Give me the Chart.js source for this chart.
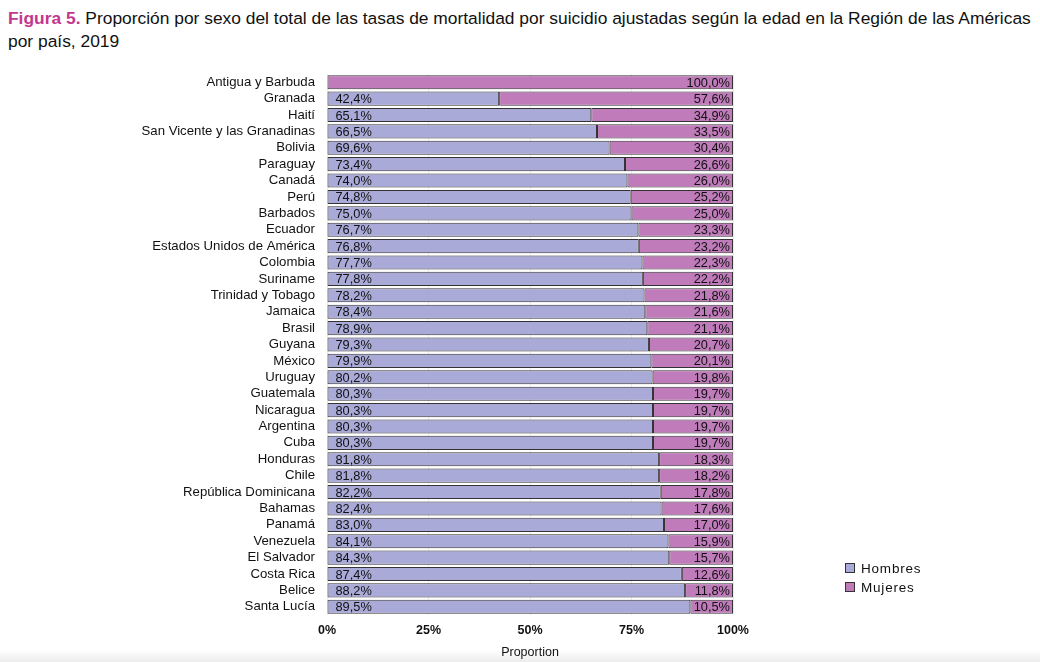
<!DOCTYPE html>
<html>
<head>
<meta charset="utf-8">
<script src="https://cdn.jsdelivr.net/npm/chart.js@4"></script>
<style>
  html, body { margin: 0; padding: 0; background: #fff; }
  body { width: 1040px; height: 662px; position: relative; overflow: hidden; font-family: "Liberation Sans", Arial, sans-serif; }
  #title { position: absolute; left: 8px; top: 7px; width: 1030px; font-size: 17.4px; line-height: 23px; color: #111; }
  #title b { color: #c2378f; }
  #wrap { position: absolute; left: 0; top: 0; width: 1040px; height: 662px; }
  #band { position: absolute; left: 0; bottom: 0; width: 1040px; height: 12px; background: linear-gradient(#ffffff, #ececec); }
</style>
</head>
<body>
<div id="band"></div>
<div id="title"><b>Figura 5.</b> Proporción por sexo del total de las tasas de mortalidad por suicidio ajustadas según la edad en la Región de las Américas por país, 2019</div>
<div id="wrap"><canvas id="chart" width="1040" height="662"></canvas></div>
<script>
// ---------- Data ----------
const countries = [
  "Antigua y Barbuda", "Granada", "Haití", "San Vicente y las Granadinas", "Bolivia",
  "Paraguay", "Canadá", "Perú", "Barbados", "Ecuador", "Estados Unidos de América",
  "Colombia", "Suriname", "Trinidad y Tobago", "Jamaica", "Brasil", "Guyana", "México",
  "Uruguay", "Guatemala", "Nicaragua", "Argentina", "Cuba", "Honduras", "Chile",
  "República Dominicana", "Bahamas", "Panamá", "Venezuela", "El Salvador", "Costa Rica",
  "Belice", "Santa Lucía"
];
const hombres = [
  0.0, 42.4, 65.1, 66.5, 69.6, 73.4, 74.0, 74.8, 75.0, 76.7, 76.8,
  77.7, 77.8, 78.2, 78.4, 78.9, 79.3, 79.9, 80.2, 80.3, 80.3, 80.3, 80.3, 81.8, 81.8,
  82.2, 82.4, 83.0, 84.1, 84.3, 87.4, 88.2, 89.5
];
const mujeres = [
  100.0, 57.6, 34.9, 33.5, 30.4, 26.6, 26.0, 25.2, 25.0, 23.3, 23.2,
  22.3, 22.2, 21.8, 21.6, 21.1, 20.7, 20.1, 19.8, 19.7, 19.7, 19.7, 19.7, 18.3, 18.2,
  17.8, 17.6, 17.0, 15.9, 15.7, 12.6, 11.8, 10.5
];
const xTicks = [0, 25, 50, 75, 100];

const COLOR_H = '#aaaad9';
const COLOR_M = '#bf7bba';
const FONT = '"Liberation Sans", Arial, sans-serif';

function pct(v) {
  return v.toFixed(1).replace('.', ',') + '%';
}

// ---------- Plugins ----------
const barLabels = {
  id: 'barLabels',
  afterDatasetsDraw(chart) {
    const ctx = chart.ctx;
    ctx.save();
    ctx.font = '12.8px ' + FONT;
    ctx.fillStyle = '#111';
    ctx.textBaseline = 'middle';
    chart.data.datasets.forEach((ds, di) => {
      const meta = chart.getDatasetMeta(di);
      meta.data.forEach((bar, i) => {
        const v = ds.data[i];
        if (!v) return;
        if (di === 0) {
          ctx.textAlign = 'left';
          ctx.fillText(pct(v), bar.base + 8, bar.y + 1);
        } else {
          ctx.textAlign = 'right';
          ctx.fillText(pct(v), Math.min(bar.x, chart.chartArea.right) - 3, bar.y + 1);
        }
      });
    });
    ctx.restore();
  }
};

const sideLegend = {
  id: 'sideLegend',
  afterDraw(chart) {
    const ctx = chart.ctx;
    const items = chart.data.datasets.map(d => ({ text: d.label, color: d.backgroundColor }));
    ctx.save();
    ctx.font = '13.5px ' + FONT;
    ctx.textBaseline = 'middle';
    ctx.textAlign = 'left';
    items.forEach((it, i) => {
      const y = 568 + i * 19;
      ctx.fillStyle = it.color;
      ctx.fillRect(845, y - 5, 10, 10);
      ctx.strokeStyle = '#333';
      ctx.lineWidth = 1;
      ctx.strokeRect(845.5, y - 4.5, 9, 9);
      ctx.fillStyle = '#111';
      ctx.letterSpacing = '0.8px';
      ctx.fillText(it.text, 861, y + 1);
    });
    ctx.restore();
  }
};

// ---------- Chart ----------
new Chart(document.getElementById('chart'), {
  type: 'bar',
  data: {
    labels: countries,
    datasets: [
      {
        label: 'Hombres',
        data: hombres,
        backgroundColor: COLOR_H,
        borderColor: '#333',
        borderWidth: 1,
        borderSkipped: false,
        barPercentage: 0.86,
        categoryPercentage: 1
      },
      {
        label: 'Mujeres',
        data: mujeres,
        backgroundColor: COLOR_M,
        borderColor: '#333',
        borderWidth: 1,
        borderSkipped: false,
        barPercentage: 0.86,
        categoryPercentage: 1
      }
    ]
  },
  options: {
    indexAxis: 'y',
    responsive: false,
    animation: false,
    layout: { padding: { top: 74, right: 307, bottom: 2, left: 0 } },
    plugins: {
      legend: { display: false },
      tooltip: { enabled: false }
    },
    scales: {
      x: {
        stacked: true,
        min: 0,
        max: 100,
        afterFit: s => { s.height = 45; },
        afterBuildTicks: s => { s.ticks = xTicks.map(v => ({ value: v })); },
        grid: { color: '#ececec', drawTicks: false },
        border: { display: false },
        ticks: {
          padding: 8,
          color: '#111',
          font: { family: FONT, size: 12.5, weight: 'bold' },
          callback: v => v + '%'
        },
        title: {
          display: true,
          text: 'Proportion',
          color: '#111',
          font: { family: FONT, size: 12.5 },
          padding: { top: 2, bottom: 0 }
        }
      },
      y: {
        stacked: true,
        afterFit: s => { s.width = 327; },
        grid: { display: false, drawTicks: false },
        border: { display: false },
        ticks: {
          padding: 12,
          autoSkip: false,
          color: '#111',
          font: { family: FONT, size: 13.2 }
        }
      }
    }
  },
  plugins: [barLabels, sideLegend]
});
</script>
</body>
</html>
